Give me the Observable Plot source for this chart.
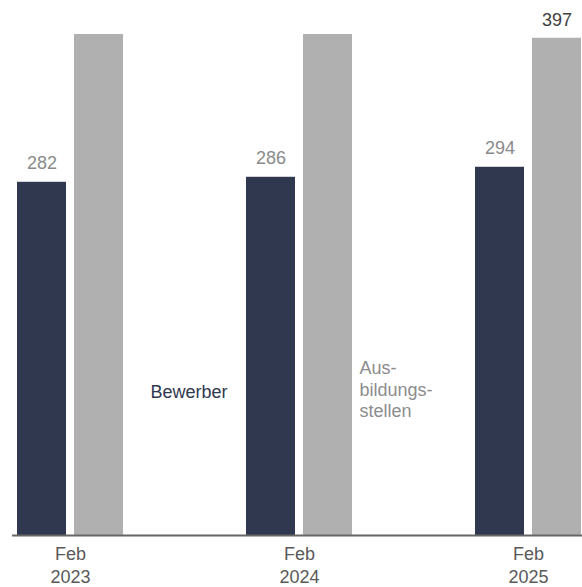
<!DOCTYPE html>
<html>
<head>
<meta charset="utf-8">
<script src="https://cdn.jsdelivr.net/npm/d3@7"></script>
<script src="https://cdn.jsdelivr.net/npm/@observablehq/plot@0.6"></script>
<style>
  html, body { margin: 0; padding: 0; background: #fff; overflow: hidden; }
</style>
</head>
<body>
<div id="chart"></div>
<script>
// Data
const periods = ["Feb 2023", "Feb 2024", "Feb 2025"];
const bewerber = [282, 286, 294];
const ausbildungsstellen = [400, 400, 397]; // first two reach the top of the scale (clipped)
const yMax = 400;

const dark = "#2f384e";
const grey = "#b0b0b0";

const rowsB = periods.map((p, i) => ({period: p, value: bewerber[i]}));
const rowsA = periods.map((p, i) => ({period: p, value: ausbildungsstellen[i]}));

// each period band holds two bars: 49px + 8px gap + 49px
const bandInset = 57;
const half = 28.5;

const chart = Plot.plot({
  width: 582,
  height: 587,
  marginTop: 34,
  marginBottom: 52,
  marginLeft: 16,
  marginRight: 0,
  style: {fontFamily: "'Liberation Sans', Arial, Helvetica, sans-serif", fontSize: "18px", background: "#fff"},
  x: {domain: periods, paddingInner: 0.539, paddingOuter: 0, axis: null},
  y: {domain: [0, yMax], axis: null},
  marks: [
    Plot.barY(rowsB, {x: "period", y: "value", fill: dark, insetRight: bandInset}),
    Plot.barY(rowsA, {x: "period", y: "value", fill: grey, insetLeft: bandInset, clip: true}),
    Plot.ruleY([0], {stroke: "#666", strokeWidth: 2, insetLeft: -4}),
    Plot.text(rowsB, {x: "period", y: "value", text: d => String(d.value), dx: -half, dy: -13,
      lineAnchor: "bottom", fill: "#8a8a8a", fontSize: 18}),
    Plot.text(rowsA.filter(d => d.value < yMax), {x: "period", y: "value", text: d => String(d.value), dx: half, dy: -12,
      lineAnchor: "bottom", fill: "#404040", fontSize: 18}),
    Plot.axisX({anchor: "bottom", tickSize: 0, tickPadding: 9, label: null, fill: "#595959",
      fontSize: 18, lineHeight: 1.25, tickFormat: d => d.replace(" ", "\n")}),
    // series labels placed beside the Feb 2024 bars
    Plot.text(["Bewerber"], {x: () => "Feb 2024", y: () => 114, text: d => d, textAnchor: "end",
      dx: -72, lineAnchor: "middle", fill: dark, fontSize: 18}),
    Plot.text(["Aus-\nbildungs-\nstellen"], {x: () => "Feb 2024", y: () => 117, text: d => d, textAnchor: "start",
      dx: 60, lineAnchor: "middle", lineHeight: 1.2, fill: "#8c8c8c", fontSize: 18})
  ]
});

document.getElementById("chart").appendChild(chart);
</script>
</body>
</html>
